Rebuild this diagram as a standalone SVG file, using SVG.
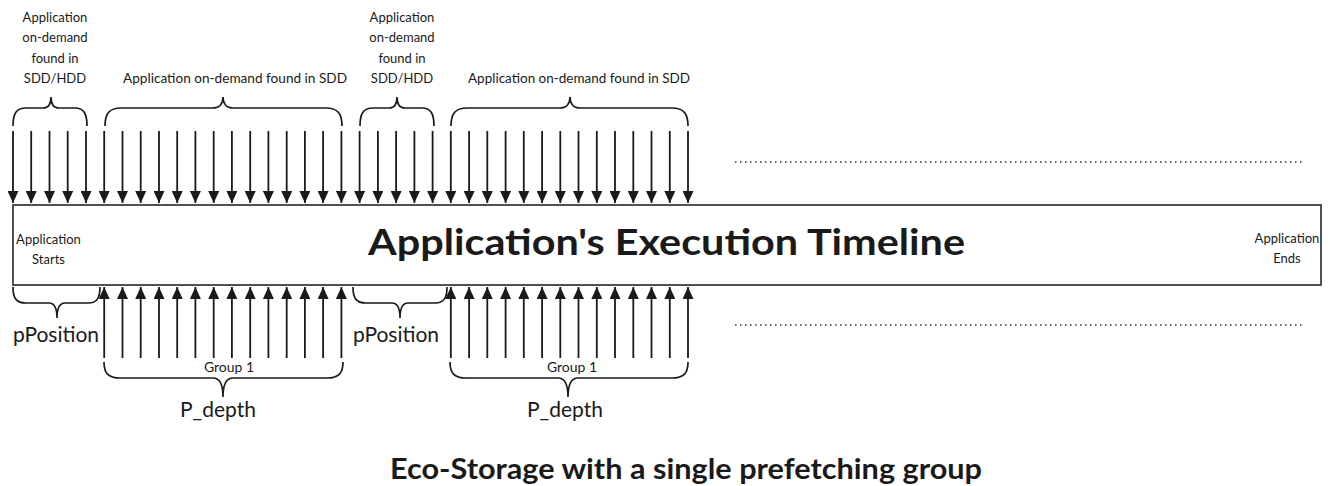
<svg xmlns="http://www.w3.org/2000/svg" width="1330" height="486" viewBox="0 0 1330 486">
<style>
text{font-family:Lato,"Open Sans","Liberation Sans",sans-serif;fill:#1a1a1a}
.s{font-size:13px;text-anchor:middle}
.l{font-size:13px;text-anchor:start}
.m{font-size:21px;text-anchor:middle}
.g{font-size:14px;text-anchor:middle}
.b{font-weight:bold}
.br{fill:none;stroke:#1a1a1a;stroke-width:1.7}
.dn{stroke:#1a1a1a;stroke-width:1.8;marker-end:url(#ah)}
.up{stroke:#1a1a1a;stroke-width:1.8;marker-end:url(#ah)}
.dot{stroke:#333;stroke-width:1.5;stroke-dasharray:1.5 3.5}
</style>
<defs>
<marker id="ah" markerUnits="userSpaceOnUse" markerWidth="12" markerHeight="11" refX="12" refY="5.5" orient="auto" viewBox="0 0 12 11">
<path d="M0,0 L12,5.5 L0,11 z" fill="#1a1a1a"/>
</marker>
</defs>
<rect width="1330" height="486" fill="#fff"/>

<g id="timeline">
<rect x="13" y="205" width="1308" height="80" fill="#fff" stroke="#333" stroke-width="1.7"/>
<text x="368" y="255" class="b" font-size="37" textLength="597" lengthAdjust="spacingAndGlyphs">Application's Execution Timeline</text>
</g>
<g id="app-starts">
<text class="s" x="48.5" y="244">Application</text>
<text class="s" x="48.5" y="264">Starts</text>
</g>
<g id="app-ends">
<text class="s" x="1287" y="243">Application</text>
<text class="s" x="1287" y="263">Ends</text>
</g>

<g id="label-hdd-1">
<text class="s" x="55" y="22">Application</text>
<text class="s" x="55" y="42">on-demand</text>
<text class="s" x="55" y="63">found in</text>
<text class="s" x="55" y="83">SDD/HDD</text>
<path class="br" d="M13,126 C13,114 16,108 26,108 L43,108 C48,108 51,104 51,97 C51,104 54,108 59,108 L75,108 C84,108 87,114 87,126"/>
</g>
<g id="label-sdd-1">
<text class="l" x="123" y="83" textLength="224" lengthAdjust="spacingAndGlyphs">Application on-demand found in SDD</text>
<path class="br" d="M105,126 C105,114 109,108 121,108 L213,108 C219,108 223,104 223,97 C223,104 227,108 233,108 L326,108 C338,108 342,114 342,126"/>
</g>
<g id="label-hdd-2">
<text class="s" x="402" y="22">Application</text>
<text class="s" x="402" y="42">on-demand</text>
<text class="s" x="402" y="63">found in</text>
<text class="s" x="402" y="83">SDD/HDD</text>
<path class="br" d="M360,126 C360,114 363,108 373,108 L389,108 C394,108 397,104 397,97 C397,104 400,108 405,108 L422,108 C431,108 434,114 434,126"/>
</g>
<g id="label-sdd-2">
<text class="l" x="468" y="83" textLength="222" lengthAdjust="spacingAndGlyphs">Application on-demand found in SDD</text>
<path class="br" d="M451,126 C451,114 455,108 467,108 L560,108 C566,108 570,104 570,97 C570,104 574,108 580,108 L672,108 C684,108 688,114 688,126"/>
</g>

<g id="pposition-1">
<path class="br" d="M13,287 C13,298 16,303 26,303 L49,303 C54,303 57,307 57,318 C57,307 60,303 65,303 L88,303 C97,303 100,298 100,287"/>
<text class="m" x="56" y="342">pPosition</text>
</g>
<g id="pposition-2">
<path class="br" d="M353,287 C353,298 356,303 366,303 L392,303 C397,303 400,307 400,318 C400,307 403,303 408,303 L435,303 C444,303 447,298 447,287"/>
<text class="m" x="396" y="342">pPosition</text>
</g>

<g id="group-1a">
<path class="br" d="M104,362 C104,373 108,378 120,378 L213,378 C219,378 223,383 223,397 C223,383 227,378 233,378 L327,378 C339,378 343,373 343,362"/>
<text class="g" x="229" y="372">Group 1</text>
<text class="m" x="218" y="417">P_depth</text>
</g>
<g id="group-1b">
<path class="br" d="M450,362 C450,373 454,378 466,378 L558,378 C564,378 568,383 568,397 C568,383 572,378 578,378 L672,378 C684,378 688,373 688,362"/>
<text class="g" x="572" y="372">Group 1</text>
<text class="m" x="565" y="417">P_depth</text>
</g>

<g id="continuation">
<line class="dot" x1="735" y1="162" x2="1304" y2="162"/>
<line class="dot" x1="735" y1="325" x2="1304" y2="325"/>
</g>

<g id="caption">
<text x="390" y="479" class="b" font-size="28" textLength="592" lengthAdjust="spacingAndGlyphs">Eco-Storage with a single prefetching group</text>
</g>

<g id="connectors">
<line class="dn" x1="13" y1="131" x2="13" y2="203"/>
<line class="dn" x1="31.2" y1="131" x2="31.2" y2="203"/>
<line class="dn" x1="49.5" y1="131" x2="49.5" y2="203"/>
<line class="dn" x1="67.7" y1="131" x2="67.7" y2="203"/>
<line class="dn" x1="86" y1="131" x2="86" y2="203"/>
<line class="dn" x1="104.2" y1="131" x2="104.2" y2="203"/>
<line class="dn" x1="122.5" y1="131" x2="122.5" y2="203"/>
<line class="dn" x1="140.7" y1="131" x2="140.7" y2="203"/>
<line class="dn" x1="159" y1="131" x2="159" y2="203"/>
<line class="dn" x1="177.2" y1="131" x2="177.2" y2="203"/>
<line class="dn" x1="195.4" y1="131" x2="195.4" y2="203"/>
<line class="dn" x1="213.7" y1="131" x2="213.7" y2="203"/>
<line class="dn" x1="231.9" y1="131" x2="231.9" y2="203"/>
<line class="dn" x1="250.2" y1="131" x2="250.2" y2="203"/>
<line class="dn" x1="268.4" y1="131" x2="268.4" y2="203"/>
<line class="dn" x1="286.7" y1="131" x2="286.7" y2="203"/>
<line class="dn" x1="304.9" y1="131" x2="304.9" y2="203"/>
<line class="dn" x1="323.1" y1="131" x2="323.1" y2="203"/>
<line class="dn" x1="341.4" y1="131" x2="341.4" y2="203"/>
<line class="dn" x1="359.6" y1="131" x2="359.6" y2="203"/>
<line class="dn" x1="377.9" y1="131" x2="377.9" y2="203"/>
<line class="dn" x1="396.1" y1="131" x2="396.1" y2="203"/>
<line class="dn" x1="414.4" y1="131" x2="414.4" y2="203"/>
<line class="dn" x1="432.6" y1="131" x2="432.6" y2="203"/>
<line class="dn" x1="450.8" y1="131" x2="450.8" y2="203"/>
<line class="dn" x1="469.1" y1="131" x2="469.1" y2="203"/>
<line class="dn" x1="487.3" y1="131" x2="487.3" y2="203"/>
<line class="dn" x1="505.6" y1="131" x2="505.6" y2="203"/>
<line class="dn" x1="523.8" y1="131" x2="523.8" y2="203"/>
<line class="dn" x1="542.1" y1="131" x2="542.1" y2="203"/>
<line class="dn" x1="560.3" y1="131" x2="560.3" y2="203"/>
<line class="dn" x1="578.5" y1="131" x2="578.5" y2="203"/>
<line class="dn" x1="596.8" y1="131" x2="596.8" y2="203"/>
<line class="dn" x1="615" y1="131" x2="615" y2="203"/>
<line class="dn" x1="633.3" y1="131" x2="633.3" y2="203"/>
<line class="dn" x1="651.5" y1="131" x2="651.5" y2="203"/>
<line class="dn" x1="669.8" y1="131" x2="669.8" y2="203"/>
<line class="dn" x1="688" y1="131" x2="688" y2="203"/>

<line class="up" x1="104.2" y1="358" x2="104.2" y2="287"/>
<line class="up" x1="122.5" y1="358" x2="122.5" y2="287"/>
<line class="up" x1="140.7" y1="358" x2="140.7" y2="287"/>
<line class="up" x1="159" y1="358" x2="159" y2="287"/>
<line class="up" x1="177.2" y1="358" x2="177.2" y2="287"/>
<line class="up" x1="195.4" y1="358" x2="195.4" y2="287"/>
<line class="up" x1="213.7" y1="358" x2="213.7" y2="287"/>
<line class="up" x1="231.9" y1="358" x2="231.9" y2="287"/>
<line class="up" x1="250.2" y1="358" x2="250.2" y2="287"/>
<line class="up" x1="268.4" y1="358" x2="268.4" y2="287"/>
<line class="up" x1="286.7" y1="358" x2="286.7" y2="287"/>
<line class="up" x1="304.9" y1="358" x2="304.9" y2="287"/>
<line class="up" x1="323.1" y1="358" x2="323.1" y2="287"/>
<line class="up" x1="341.4" y1="358" x2="341.4" y2="287"/>
<line class="up" x1="450.8" y1="358" x2="450.8" y2="287"/>
<line class="up" x1="469.1" y1="358" x2="469.1" y2="287"/>
<line class="up" x1="487.3" y1="358" x2="487.3" y2="287"/>
<line class="up" x1="505.6" y1="358" x2="505.6" y2="287"/>
<line class="up" x1="523.8" y1="358" x2="523.8" y2="287"/>
<line class="up" x1="542.1" y1="358" x2="542.1" y2="287"/>
<line class="up" x1="560.3" y1="358" x2="560.3" y2="287"/>
<line class="up" x1="578.5" y1="358" x2="578.5" y2="287"/>
<line class="up" x1="596.8" y1="358" x2="596.8" y2="287"/>
<line class="up" x1="615" y1="358" x2="615" y2="287"/>
<line class="up" x1="633.3" y1="358" x2="633.3" y2="287"/>
<line class="up" x1="651.5" y1="358" x2="651.5" y2="287"/>
<line class="up" x1="669.8" y1="358" x2="669.8" y2="287"/>
<line class="up" x1="688" y1="358" x2="688" y2="287"/>
</g>
</svg>
